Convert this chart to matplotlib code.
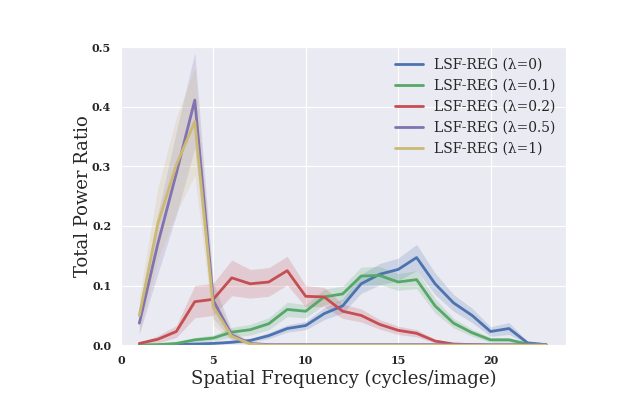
import numpy as np
import matplotlib
matplotlib.use('Agg')
import matplotlib.pyplot as plt
import seaborn as sns

freq = list(range(1, 24))

labels = ['LSF-REG (λ=0)', 'LSF-REG (λ=0.1)', 'LSF-REG (λ=0.2)',
          'LSF-REG (λ=0.5)', 'LSF-REG (λ=1)']

ratio_l0 = [0.0, 0.0, 0.001, 0.002, 0.003, 0.005, 0.008, 0.016, 0.028, 0.033, 0.053, 0.066,
            0.103, 0.119, 0.127, 0.147, 0.103, 0.071, 0.050, 0.023, 0.028, 0.004, 0.001]
ratio_l01 = [0.0, 0.001, 0.003, 0.009, 0.012, 0.022, 0.026, 0.036, 0.060, 0.057, 0.081, 0.086,
             0.116, 0.117, 0.106, 0.110, 0.066, 0.037, 0.021, 0.009, 0.009, 0.002, 0.001]
ratio_l02 = [0.003, 0.010, 0.023, 0.073, 0.077, 0.113, 0.103, 0.106, 0.125, 0.082, 0.081, 0.057,
             0.050, 0.035, 0.025, 0.020, 0.007, 0.002, 0.001, 0.0, 0.0, 0.0, 0.0]
ratio_l05 = [0.037, 0.170, 0.288, 0.411, 0.075, 0.017, 0.003, 0.001, 0.001, 0.001, 0.001, 0.001,
             0.001, 0.001, 0.001, 0.001, 0.001, 0.001, 0.001, 0.001, 0.001, 0.001, 0.001]
ratio_l1 = [0.050, 0.204, 0.302, 0.375, 0.064, 0.015, 0.002, 0.0, 0.0, 0.0, 0.0, 0.0,
            0.0, 0.0, 0.0, 0.0, 0.0, 0.0, 0.0, 0.0, 0.0, 0.0, 0.0]

# half-width of the shaded band
err_l0 = [0.0, 0.0, 0.001, 0.001, 0.002, 0.002, 0.003, 0.005, 0.006, 0.007, 0.010, 0.012,
          0.016, 0.018, 0.019, 0.022, 0.018, 0.014, 0.012, 0.008, 0.010, 0.002, 0.001]
err_l01 = [0.0, 0.001, 0.002, 0.004, 0.005, 0.008, 0.009, 0.010, 0.012, 0.011, 0.013, 0.013,
           0.015, 0.015, 0.014, 0.015, 0.012, 0.008, 0.006, 0.004, 0.004, 0.001, 0.0]
err_l02 = [0.002, 0.006, 0.010, 0.027, 0.027, 0.030, 0.024, 0.024, 0.024, 0.018, 0.016, 0.012,
           0.011, 0.008, 0.007, 0.006, 0.003, 0.001, 0.001, 0.0, 0.0, 0.0, 0.0]
err_l05 = [0.018, 0.05, 0.07, 0.08, 0.03, 0.008, 0.002, 0.001, 0.0, 0.0, 0.0, 0.0,
           0.0, 0.0, 0.0, 0.0, 0.0, 0.0, 0.0, 0.0, 0.0, 0.0, 0.0]
err_l1 = [0.03, 0.06, 0.08, 0.09, 0.03, 0.008, 0.002, 0.0, 0.0, 0.0, 0.0, 0.0,
          0.0, 0.0, 0.0, 0.0, 0.0, 0.0, 0.0, 0.0, 0.0, 0.0, 0.0]

sns.set_style('darkgrid')
plt.rcParams['font.family'] = ['DejaVu Serif']
colors = ['#4C72B0', '#55A868', '#C44E52', '#8172B2', '#CCB974']

fig = plt.figure(figsize=(6.23, 3.95), dpi=100)
ax = fig.add_axes([0.194, 0.126, 0.715, 0.755])

series = [ratio_l0, ratio_l01, ratio_l02, ratio_l05, ratio_l1]
errs = [err_l0, err_l01, err_l02, err_l05, err_l1]
x = np.array(freq)
for vals, err, lab, c in zip(series, errs, labels, colors):
    v = np.array(vals)
    e = np.array(err)
    ax.fill_between(x, v - e, v + e, color=c, alpha=0.2, linewidth=0)
    ax.plot(x, v, color=c, linewidth=2, label=lab)

ax.set_xlim(0, 24.1)
ax.set_ylim(0, 0.5)
ax.set_xticks([0, 5, 10, 15, 20])
ax.set_yticks([0.0, 0.1, 0.2, 0.3, 0.4, 0.5])
ax.tick_params(labelsize=8, colors='#262626')
for t in ax.get_xticklabels() + ax.get_yticklabels():
    t.set_fontweight('bold')
ax.set_xlabel('Spatial Frequency (cycles/image)', fontsize=13, labelpad=3, color='#262626')
ax.set_ylabel('Total Power Ratio', fontsize=13, labelpad=0, color='#262626')
ax.legend(loc='upper right', fontsize=10, frameon=False, borderaxespad=0.4,
          labelspacing=0.5)

fig.savefig('out.png', dpi=100)
